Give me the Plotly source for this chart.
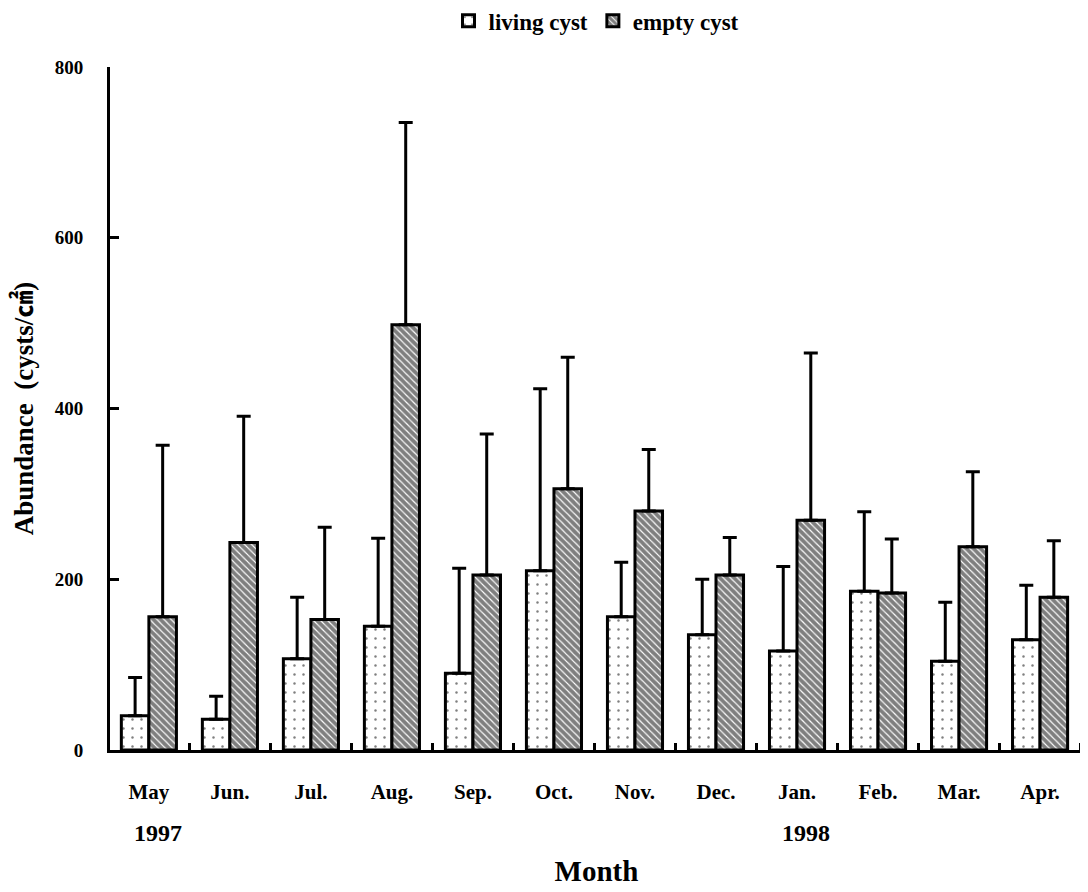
import plotly.graph_objects as go

months = ["May", "Jun.", "Jul.", "Aug.", "Sep.", "Oct.", "Nov.", "Dec.", "Jan.", "Feb.", "Mar.", "Apr."]
living_mean = [40, 36, 107, 145, 90, 210, 156, 135, 116, 186, 104, 129]
living_top = [85, 63, 179, 248, 213, 423, 220, 200, 215, 279, 173, 193]
empty_mean = [156, 243, 153, 498, 205, 306, 280, 205, 269, 184, 238, 179]
empty_top = [357, 391, 261, 735, 370, 460, 352, 249, 465, 247, 326, 245]
year_labels = ["1997", "1998"]
year_months = ["May", "Jan."]

living_err = [t - m for t, m in zip(living_top, living_mean)]
empty_err = [t - m for t, m in zip(empty_top, empty_mean)]

FONT = "Liberation Serif, DejaVu Serif, Noto Sans CJK KR, serif"

fig = go.Figure()
fig.add_trace(go.Bar(
    x=months, y=living_mean, name="<b>living cyst</b>",
    marker=dict(color="white", line=dict(color="black", width=3),
                pattern=dict(shape=".", fgcolor="black", bgcolor="white", size=9, solidity=0.06)),
    error_y=dict(type="data", symmetric=False, array=living_err, arrayminus=[0]*12,
                 color="black", thickness=3, width=7),
))
fig.add_trace(go.Bar(
    x=months, y=empty_mean, name="<b>empty cyst</b>",
    marker=dict(color="black", line=dict(color="black", width=3),
                pattern=dict(shape="\\", fgcolor="black", bgcolor="white", size=5, solidity=0.78)),
    error_y=dict(type="data", symmetric=False, array=empty_err, arrayminus=[0]*12,
                 color="black", thickness=3, width=7),
))

for yl, ym in zip(year_labels, year_months):
    fig.add_annotation(x=ym, y=0, xref="x", yref="paper", text=f"<b>{yl}</b>",
                       showarrow=False, yanchor="middle", yshift=-83, xshift=9,
                       font=dict(family=FONT, size=24, color="black"))

fig.update_layout(
    width=1088, height=892,
    margin=dict(l=102, r=13, t=59, b=150, autoexpand=False),
    plot_bgcolor="white", paper_bgcolor="white",
    barmode="group", bargap=0.32, bargroupgap=0.0,
    showlegend=True,
    legend=dict(orientation="h", x=0.5, xanchor="center", y=1.0675, yanchor="middle",
                font=dict(family=FONT, size=23, color="black"),
                itemwidth=30, tracegroupgap=0, borderwidth=0),
    font=dict(family=FONT, color="black"),
    xaxis=dict(
        type="category", range=[-0.48, 11.53],
        showline=True, linecolor="black", linewidth=3,
        ticks="inside", tickson="boundaries", ticklen=7, tickwidth=3, tickcolor="black",
        tickfont=dict(family=FONT, size=21, color="black"),
        tickvals=months, ticktext=[f"<b>{m}</b>" for m in months],
        ticklabelstandoff=21,
        title=dict(text="<b>Month</b>", font=dict(family=FONT, size=29, color="black"), standoff=58),
        showgrid=False, zeroline=False,
    ),
    yaxis=dict(
        range=[0, 800], tickvals=[0, 200, 400, 600, 800],
        ticktext=["<b>0</b>", "<b>200</b>", "<b>400</b>", "<b>600</b>", "<b>800</b>"],
        showline=True, linecolor="black", linewidth=3,
        ticks="inside", ticklen=9, tickwidth=3, tickcolor="black",
        tickfont=dict(family=FONT, size=19, color="black"),
        ticklabelstandoff=20,
        title=dict(text="<b>Abundance  (cysts/㎠)</b>", font=dict(family=FONT, size=27, color="black"), standoff=18),
        showgrid=False, zeroline=False,
    ),
)

fig.write_html("out.html")
